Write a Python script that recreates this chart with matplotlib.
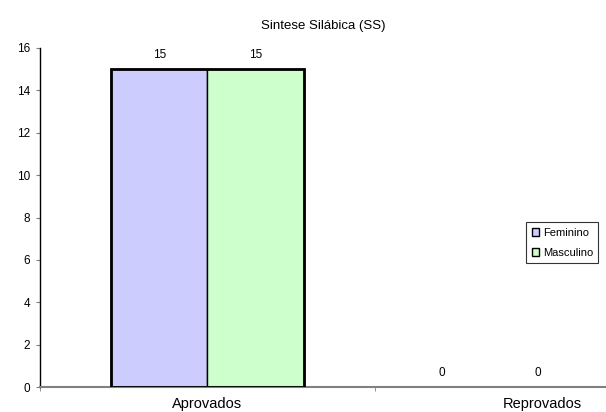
import numpy as np
import matplotlib.pyplot as plt

plt.rcParams['font.family'] = ['Liberation Sans', 'DejaVu Sans']

categorias = ['Aprovados', 'Reprovados']
series = ['Feminino', 'Masculino']
feminino = [15, 0]
masculino = [15, 0]
cores = ['#CCCCFF', '#CCFFCC']

fig = plt.figure(figsize=(6.06, 4.12), dpi=100)
ax = fig.add_axes([40 / 606, 25 / 412, 670 / 606, 339 / 412])

X = np.arange(len(categorias))
w = 0.287
b1 = ax.bar(X - w / 2, feminino, width=w, color=cores[0], edgecolor='black', linewidth=1.0, label=series[0])
b2 = ax.bar(X + w / 2, masculino, width=w, color=cores[1], edgecolor='black', linewidth=1.0, label=series[1])

# thicker outline around the whole group (as in the original)
for i, (f, m) in enumerate(zip(feminino, masculino)):
    h = max(f, m)
    if h > 0:
        ax.add_patch(plt.Rectangle((X[i] - w, 0), 2 * w, h, fill=False, edgecolor='black', linewidth=2.0, zorder=3))

# value labels (zeros sit shifted left in the original)
for bars in (b1, b2):
    for bar in bars:
        v = bar.get_height()
        dx = 0 if v > 0 else -53
        ax.annotate(str(int(v)), (bar.get_x() + bar.get_width() / 2, v), xytext=(dx, 8),
                    textcoords='offset pixels', ha='center', va='bottom', fontsize=8.5)

ax.set_xlim(-0.5, 1.5)
ax.set_ylim(0, 16)
ax.set_yticks(range(0, 17, 2))
ax.set_xticks(X)
ax.set_xticklabels(categorias, fontsize=10.5)
ax.set_xticks([-0.5, 0.5, 1.5], minor=True)
ax.tick_params(axis='x', which='major', length=0, pad=7)
ax.tick_params(axis='x', which='minor', length=3, color='gray', direction='out')
ax.tick_params(axis='y', length=3, color='gray', labelsize=8.5, pad=4)

for s in ('top', 'right'):
    ax.spines[s].set_visible(False)
ax.spines['left'].set_color('black')
ax.spines['left'].set_linewidth(1.0)
ax.spines['bottom'].set_color('gray')
ax.spines['bottom'].set_linewidth(1.5)

fig.text(323 / 606, 1 - 26 / 412, 'Sintese Silábica (SS)', ha='center', va='center', fontsize=9.5)

leg = fig.legend(handles=[b1, b2], loc='upper left', bbox_to_anchor=(526 / 606, 1 - 222 / 412),
                 fontsize=8, frameon=True, fancybox=False, handlelength=0.7, handleheight=0.7,
                 handletextpad=0.3, borderpad=0.5, labelspacing=0.9, borderaxespad=0)
leg.get_frame().set_edgecolor('black')
leg.get_frame().set_linewidth(0.8)

fig.savefig('out.png', dpi=100)
